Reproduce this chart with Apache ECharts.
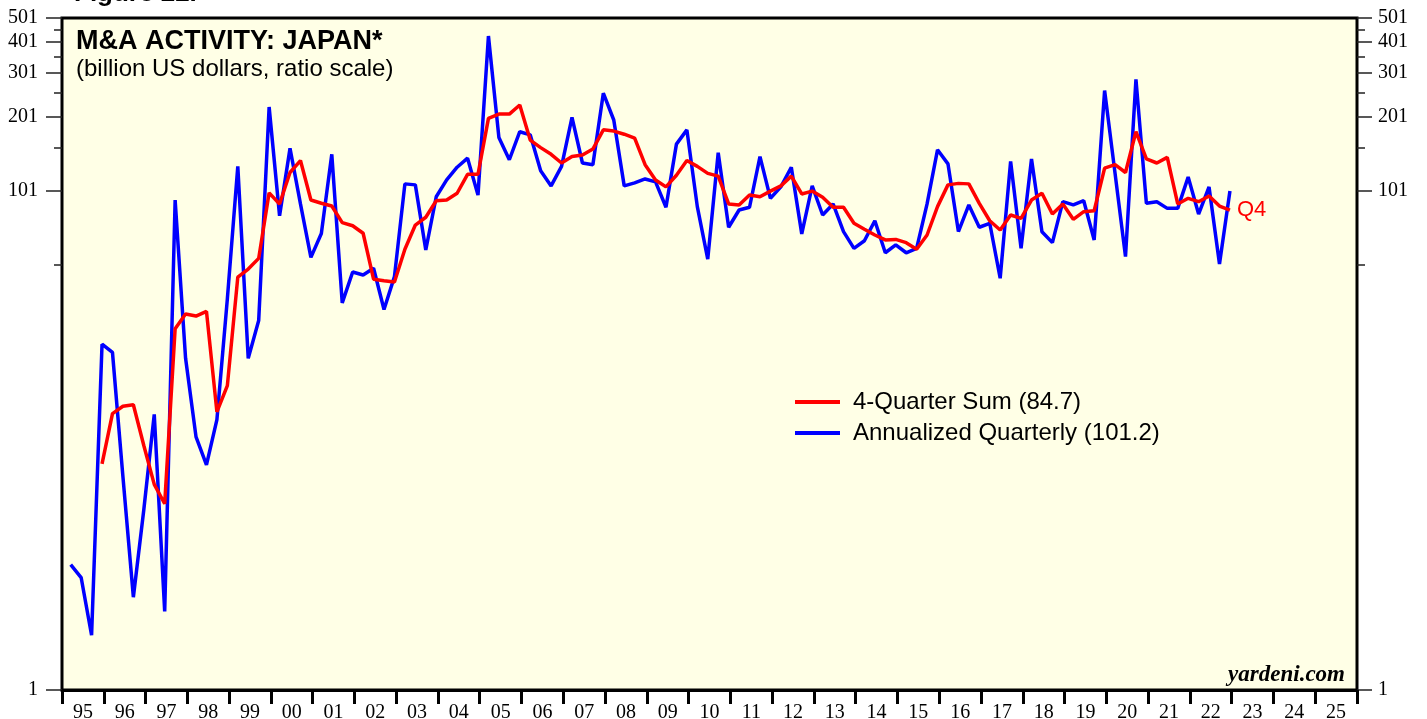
<!DOCTYPE html>
<html>
<head>
<meta charset="utf-8">
<script src="https://cdn.jsdelivr.net/npm/echarts@6/dist/echarts.min.js"></script>
<style>
  html, body { margin: 0; padding: 0; background: #fff; }
  #chart { width: 1427px; height: 719px; }
</style>
</head>
<body>
<div id="chart"></div>
<script>
// quarterly data, first point = 1995 Q1
const startYear = 1995;
const yearLabels = ['95','96','97','98','99','00','01','02','03','04','05','06','07','08','09','10',
  '11','12','13','14','15','16','17','18','19','20','21','22','23','24','25'];

// Annualized quarterly M&A activity (billion US$)
const quarterly = [
  3.19, 2.83, 1.66, 24.5, 22.7, 7.2, 2.36, 5.3, 12.8, 2.07,
  93, 21.5, 10.4, 8.02, 12.2, 37.3, 127, 21.5, 30.5, 220,
  80.4, 150, 89.7, 54.7, 68.2, 142, 35.9, 47.8, 46.5, 49.5,
  33.8, 45.8, 108, 107, 58.6, 95.9, 112, 126, 137, 97.4,
  424, 166, 135, 175, 170, 122, 106, 127, 200, 131,
  129, 250, 195, 106, 109, 113, 110, 87, 156, 178,
  87.5, 53.8, 144, 72.3, 84.8, 87, 139, 94.5, 105, 126,
  68, 106, 81, 89.7, 69.4, 59.5, 63.8, 76.8, 57.1, 61.4,
  57.1, 59.5, 89.7, 148, 130, 69.5, 88.9, 72.3, 75, 45.1,
  133, 59.5, 136, 69.4, 62.7, 91.6, 88.9, 92.4, 64.3, 256,
  119, 55.1, 284, 90.2, 91.6, 86.1, 86.1, 115, 81.7, 105,
  51.5, 101.2
];

// 4-quarter sum, first point = 1995 Q4
const fourQtrSum = [
  8.1, 12.9, 13.8, 14.0, 9.6, 6.7, 5.6, 28.3, 32.4, 31.8,
  33.2, 13.1, 16.7, 45.6, 49.1, 54.2, 99.4, 89.7, 120, 134,
  93, 90.3, 88, 75.5, 73.3, 68.4, 44.7, 44.1, 43.6, 59,
  73.8, 79.3, 92.4, 93, 99, 118, 118, 198, 206, 206,
  224, 162, 151, 142, 131, 139, 141, 149, 178, 176,
  171, 165, 129, 112, 105, 117, 134, 127, 119, 116,
  89.7, 88.9, 97.4, 95.9, 101, 106, 116, 98.4, 101, 95.4,
  87, 87, 75, 71, 67.3, 64.3, 64.6, 62.7, 59, 67.3,
  87.5, 107, 108.5, 108, 90.2, 76.8, 70.5, 81, 78.5, 93,
  99, 81.7, 89.7, 77.8, 83.5, 84.2, 125, 129, 120, 175,
  136, 131, 138, 89.7, 94.5, 91.6, 96.6, 88, 84.7
];
const sumOffset = 3;

const yTicks = [1, 101, 201, 301, 401, 501];
const yMinorTicks = [51, 151, 251, 351, 451];

// quarter index -> decimal year (middle of last month of the quarter)
function qx(i) {
  return startYear + Math.floor(i / 4) + (3 * (i % 4 + 1) - 0.5) / 12;
}

const blueData = quarterly.map((v, i) => [qx(i), v]);
const redData = fourQtrSum.map((v, k) => [qx(k + sumOffset), v]);

const blueName = 'Annualized Quarterly (' + quarterly[quarterly.length - 1] + ')';
const redName = '4-Quarter Sum (' + fourQtrSum[fourQtrSum.length - 1] + ')';

const serif = 'Liberation Serif, Times New Roman, serif';
const sans = 'Liberation Sans, Arial, sans-serif';

const myChart = echarts.init(document.getElementById('chart'));

function yAxisDef(pos, ticks, tickLen, withLabels, margin) {
  return {
    type: 'log',
    logBase: 10,
    min: 1,
    max: 501,
    position: pos,
    axisLine: { show: false },
    axisTick: { show: true, length: tickLen, customValues: ticks, lineStyle: { color: '#222', width: 1.5 } },
    axisLabel: {
      show: withLabels,
      customValues: ticks,
      margin: margin,
      fontFamily: serif,
      fontSize: 20,
      color: '#000',
      formatter: v => String(Math.round(v))
    },
    splitLine: { show: false },
    minorTick: { show: false },
    minorSplitLine: { show: false }
  };
}

const option = {
  animation: false,
  backgroundColor: '#fff',
  grid: {
    left: 62, right: 70, top: 18, bottom: 29,
    outerBoundsMode: 'none',
    containLabel: false,
    show: true,
    backgroundColor: '#ffffe6',
    borderColor: '#000',
    borderWidth: 3
  },
  xAxis: [
    {
      type: 'category',
      data: yearLabels,
      boundaryGap: true,
      position: 'bottom',
      axisLine: { show: true, lineStyle: { color: '#000', width: 3 } },
      axisTick: { show: true, interval: 0, length: 14, lineStyle: { color: '#000', width: 3 } },
      axisLabel: { interval: 0, margin: 13, fontFamily: serif, fontSize: 20, color: '#000' },
      splitLine: { show: false }
    },
    {
      type: 'value',
      min: 1995,
      max: 2026,
      position: 'bottom',
      show: false
    }
  ],
  yAxis: [
    yAxisDef('left', yTicks, 16, true, 24),
    yAxisDef('left', yMinorTicks, 8, false, 24),
    yAxisDef('right', yTicks, 15, true, 21),
    yAxisDef('right', yMinorTicks, 8, false, 21)
  ],
  legend: {
    orient: 'vertical',
    left: 795,
    top: 390,
    padding: 0,
    icon: 'rect',
    itemWidth: 45,
    itemHeight: 4,
    itemGap: 7,
    data: [redName, blueName],
    textStyle: { fontFamily: sans, fontSize: 24, color: '#000', padding: [0, 0, 0, 8] }
  },
  series: [
    {
      name: blueName,
      type: 'line',
      xAxisIndex: 1,
      yAxisIndex: 0,
      data: blueData,
      symbol: 'none',
      lineStyle: { color: '#0000ff', width: 3.5 },
      itemStyle: { color: '#0000ff' }
    },
    {
      name: redName,
      type: 'line',
      xAxisIndex: 1,
      yAxisIndex: 0,
      data: redData,
      symbol: 'none',
      lineStyle: { color: '#ff0000', width: 3.5 },
      itemStyle: { color: '#ff0000' },
      endLabel: {
        show: true,
        formatter: 'Q4',
        color: '#ff0000',
        fontFamily: sans,
        fontSize: 22,
        distance: 7
      }
    }
  ],
  graphic: [
    {
      type: 'text', left: 74, top: -19,
      style: { text: 'Figure 22.', font: 'bold 26px ' + sans, fill: '#000' }
    },
    {
      type: 'text', left: 76, top: 28,
      style: { text: 'M&A ACTIVITY: JAPAN*', font: 'bold 27px ' + sans, fill: '#000' }
    },
    {
      type: 'text', left: 76, top: 57,
      style: { text: '(billion US dollars, ratio scale)', font: '24px ' + sans, fill: '#000' }
    },
    {
      type: 'text', right: 82, top: 664,
      style: { text: 'yardeni.com', font: 'italic bold 23px ' + serif, fill: '#000' }
    }
  ]
};

option && myChart.setOption(option);
</script>
</body>
</html>
